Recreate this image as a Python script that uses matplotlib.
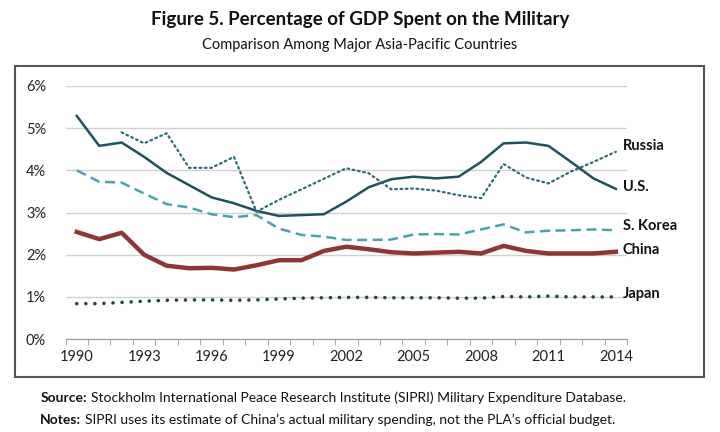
import matplotlib
matplotlib.use("Agg")
import matplotlib.pyplot as plt
from matplotlib.patches import Rectangle
from matplotlib.ticker import FixedLocator, FuncFormatter
from matplotlib.transforms import offset_copy

years = list(range(1990, 2015))
us = [5.29, 4.58, 4.66, 4.32, 3.94, 3.65, 3.36, 3.22, 3.04, 2.92, 2.94, 2.96,
      3.26, 3.60, 3.79, 3.85, 3.81, 3.85, 4.20, 4.64, 4.66, 4.58, 4.20, 3.81, 3.56]
russia_years = list(range(1992, 2015))
russia = [4.90, 4.64, 4.88, 4.06, 4.06, 4.32, 3.02, 3.30, 3.55, 3.80,
          4.05, 3.93, 3.55, 3.57, 3.52, 3.41, 3.34, 4.15, 3.83, 3.69, 3.97, 4.20, 4.44]
skorea = [4.00, 3.73, 3.71, 3.45, 3.20, 3.12, 2.96, 2.89, 2.94, 2.62, 2.47, 2.43,
          2.35, 2.35, 2.36, 2.48, 2.49, 2.48, 2.60, 2.72, 2.53, 2.57, 2.58, 2.60, 2.58]
china = [2.54, 2.37, 2.52, 2.00, 1.74, 1.68, 1.69, 1.65, 1.75, 1.87, 1.87, 2.09,
         2.19, 2.13, 2.06, 2.03, 2.05, 2.07, 2.03, 2.21, 2.09, 2.03, 2.03, 2.03, 2.07]
japan = [0.84, 0.84, 0.87, 0.90, 0.92, 0.93, 0.93, 0.92, 0.93, 0.95, 0.97, 0.98,
         0.99, 0.99, 0.98, 0.98, 0.98, 0.97, 0.97, 1.01, 1.00, 1.02, 1.00, 1.00, 1.00]
yticks = [0, 1, 2, 3, 4, 5, 6]
xtick_years = [1990, 1993, 1996, 1999, 2002, 2005, 2008, 2011, 2014]

title = "Figure 5. Percentage of GDP Spent on the Military"
subtitle = "Comparison Among Major Asia-Pacific Countries"
source_label = "Source:"
source_text = "Stockholm International Peace Research Institute (SIPRI) Military Expenditure Database."
notes_label = "Notes:"
notes_text = "SIPRI uses its estimate of China\u2019s actual military spending, not the PLA\u2019s official budget."

FONT = ["Lato", "DejaVu Sans"]
plt.rcParams['font.family'] = FONT

fig = plt.figure(figsize=(7.2, 4.32), dpi=100)
ax = fig.add_axes([0.091, 0.215, 0.78, 0.586])

ax.plot(years, us, color="#1f525c", lw=1.8, solid_joinstyle="round")
ax.plot(russia_years, russia, color="#2e6b78", lw=1.6, linestyle=(0, (0.8, 1.6)),
        dash_capstyle="round")
ax.plot(years, skorea, color="#4ba2ae", lw=1.8, linestyle=(0, (4, 2.2)))
ax.plot(years, china, color="#8c3636", lw=3.2, solid_joinstyle="round")
ax.plot(years, japan, color="#1d4450", lw=2.6, linestyle=(0, (0.01, 2.5)),
        dash_capstyle="round")

ax.set_xlim(1989.5, 2014.5)
ax.set_ylim(0, 6)
ax.yaxis.set_major_locator(FixedLocator(yticks))
ax.yaxis.set_major_formatter(FuncFormatter(lambda v, p: f"{int(v)}%"))
ax.grid(axis="y", color="#d0d0d0", lw=1)
ax.set_axisbelow(True)
ax.tick_params(axis="y", length=0, pad=14, labelsize=10.5, colors="#222222")

ax.set_xticks(xtick_years)
ax.set_xticks([y - 0.5 for y in range(1990, 2016)], minor=True)
ax.tick_params(axis="x", which="major", length=0, pad=8, labelsize=10.5, colors="#222222")
ax.tick_params(axis="x", which="minor", length=4, direction="out", color="#999999")
for s in ["top", "right", "left"]:
    ax.spines[s].set_visible(False)
ax.spines["bottom"].set_color("#999999")

labels = [("Russia", 4.58), ("U.S.", 3.6), ("S. Korea", 2.68), ("China", 2.12), ("Japan", 1.07)]
for name, yv in labels:
    ax.text(2014.3, yv, name, fontsize=10.5, fontweight="bold", va="center", ha="left",
            color="#111111", clip_on=False)

fig.patches.append(Rectangle((0.021, 0.127), 0.957, 0.72, transform=fig.transFigure,
                             fill=False, edgecolor="#555555", lw=1.5))

fig.text(0.5, 0.955, title, ha="center", va="center", fontsize=13.5, fontweight="bold",
         color="#111111")
fig.text(0.5, 0.895, subtitle, ha="center", va="center", fontsize=10.5, color="#111111")

renderer = fig.canvas.get_renderer()
for lab, txt, yy in [(source_label, source_text, 0.079), (notes_label, notes_text, 0.028)]:
    t = fig.text(0.056, yy, lab, fontsize=10, fontweight="bold", va="center", color="#111111")
    bb = t.get_window_extent(renderer=renderer)
    x1 = bb.x1 / fig.bbox.width + 0.005
    fig.text(x1, yy, txt, fontsize=10, va="center", color="#111111")

fig.savefig("out.png", dpi=100)
